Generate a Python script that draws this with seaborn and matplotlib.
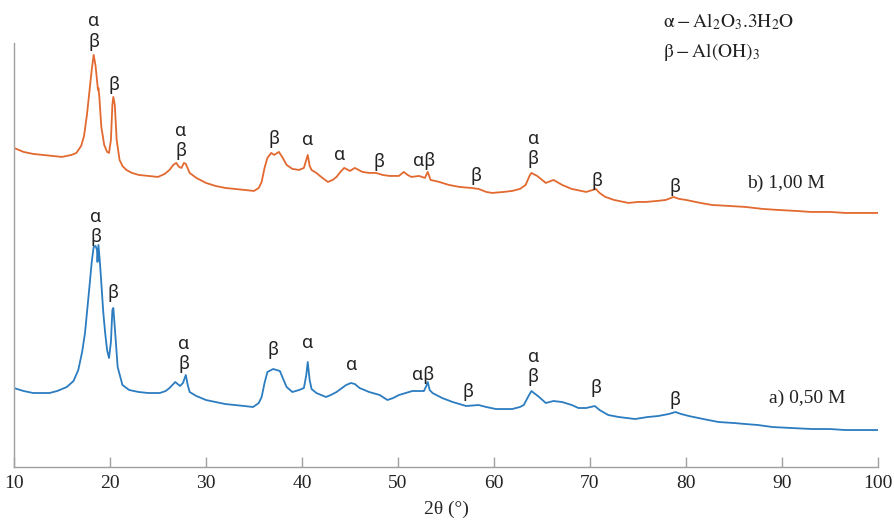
import numpy as np
import pandas as pd
import matplotlib
matplotlib.use("Agg")
import matplotlib.pyplot as plt
import seaborn as sns

# 2-theta positions (degrees) and relative intensities (a.u.) of the two diffractograms
two_theta_100 = [10.0, 11.0, 12.0, 13.0, 14.0, 15.0, 15.5, 16.0, 16.5, 17.0, 17.3, 17.6, 17.9, 18.1,
                 18.3, 18.5, 18.65, 18.75, 18.8, 18.9, 19.1, 19.4, 19.7, 19.9, 20.1, 20.25, 20.35,
                 20.5, 20.7, 21.0, 21.3, 21.7, 22.3, 23.0, 24.0, 25.0, 25.7, 26.2, 26.6, 26.9, 27.2,
                 27.45, 27.7, 27.9, 28.3, 29.0, 30.0, 31.0, 32.0, 33.0, 34.0, 35.0, 35.5, 35.8, 36.1,
                 36.4, 36.8, 37.1, 37.6, 38.0, 38.4, 39.0, 39.7, 40.2, 40.45, 40.6, 40.8, 41.0, 41.5,
                 42.0, 42.7, 43.2, 43.6, 44.0, 44.4, 45.0, 45.5, 46.3, 47.0, 47.7, 48.4, 49.1, 50.1,
                 50.6, 51.0, 51.4, 52.2, 52.8, 53.1, 53.4, 54.3, 55.3, 56.4, 57.6, 58.4, 59.2, 59.8,
                 61.0, 61.9, 62.7, 63.3, 63.7, 63.9, 64.5, 65.4, 66.2, 67.1, 68.1, 69.6, 70.3, 70.6,
                 71.0, 71.6, 72.5, 74.0, 75.0, 75.8, 77.0, 77.9, 78.7, 79.3, 80.0, 81.5, 82.7, 84.5,
                 86.2, 88.0, 89.6, 91.5, 93.0, 95.0, 96.6, 98.0, 100.0]
intensity_100 = [319, 315, 313, 312, 311, 310, 311, 312, 314, 321, 331, 352, 379, 397,
                 412, 401, 387, 377, 379, 369, 340, 322, 315, 314, 327, 362, 370,
                 362, 327, 307, 301, 297, 294, 292, 291, 290, 293, 297, 302, 304, 300,
                 299, 304, 303, 294, 289, 284, 281, 279, 278, 277, 276, 279, 285, 299,
                 309, 314, 312, 315, 309, 302, 298, 297, 299, 307, 312, 301, 297, 294,
                 290, 285, 287, 290, 295, 299, 296, 299, 295, 294, 294, 292, 291, 291,
                 295, 292, 290, 291, 289, 295, 287, 285, 282, 280, 279, 278, 275, 274,
                 275, 276, 278, 282, 291, 294, 291, 284, 287, 282, 278, 275, 277, 278,
                 274, 270, 267, 264, 265, 265, 266, 267, 270, 268, 267, 264, 262, 261,
                 260, 258, 257, 256, 255, 255, 254, 254, 254]

two_theta_050 = [10.0, 11.0, 12.0, 13.0, 13.7, 14.5, 15.5, 16.2, 16.7, 17.1, 17.4, 17.7, 17.9, 18.1,
                 18.3, 18.5, 18.65, 18.7, 18.8, 18.95, 19.1, 19.3, 19.5, 19.7, 19.9, 20.1, 20.25,
                 20.35, 20.5, 20.8, 21.3, 22.0, 23.0, 24.0, 25.2, 25.8, 26.2, 26.8, 27.3, 27.6, 27.9,
                 28.1, 28.3, 29.0, 30.0, 31.0, 32.0, 33.0, 34.0, 34.9, 35.5, 35.8, 36.1, 36.4, 37.0,
                 37.7, 38.0, 38.4, 39.0, 39.7, 40.2, 40.45, 40.6, 40.8, 41.0, 41.5, 42.5, 43.0, 43.6,
                 44.6, 45.1, 45.5, 46.0, 47.0, 48.1, 48.9, 49.5, 50.1, 51.5, 52.7, 52.95, 53.1, 53.3,
                 53.6, 54.6, 55.7, 57.1, 58.4, 59.2, 60.2, 61.9, 62.7, 63.1, 63.6, 63.9, 64.7, 65.4,
                 66.2, 67.1, 68.1, 68.8, 69.6, 70.5, 71.0, 71.9, 73.0, 74.7, 76.0, 77.1, 78.2, 78.9,
                 79.5, 80.3, 81.8, 83.4, 85.0, 86.2, 87.5, 89.0, 91.0, 93.1, 95.0, 96.6, 98.0, 100.0]
intensity_050 = [79, 76, 74, 74, 74, 76, 80, 86, 97, 115, 134, 164, 184, 205,
                 220, 221, 217, 205, 222, 205, 184, 155, 134, 117, 109, 125, 157,
                 159, 140, 100, 82, 77, 75, 74, 74, 76, 79, 85, 81, 84, 92,
                 82, 75, 71, 67, 65, 63, 62, 61, 60, 64, 70, 84, 95, 98,
                 96, 89, 80, 75, 77, 79, 92, 105, 87, 78, 74, 70, 72, 75,
                 82, 84, 83, 79, 75, 72, 67, 69, 72, 76, 76, 81, 85, 77,
                 74, 69, 65, 61, 62, 60, 58, 58, 60, 62, 71, 76, 70, 64,
                 66, 65, 62, 59, 59, 61, 57, 52, 50, 48, 50, 51, 53, 55,
                 53, 51, 48, 45, 44, 43, 42, 40, 39, 38, 38, 37, 37, 37]

# Phase labels: (text, 2-theta, height)
labels_100 = [("α", 18.3, 446), ("β", 18.3, 425), ("β", 20.4, 382), ("α", 27.4, 336),
              ("β", 27.4, 316), ("β", 37.1, 328), ("α", 40.6, 327), ("α", 43.9, 312),
              ("β", 48.0, 305), ("αβ", 52.75, 306), ("β", 58.1, 291), ("α", 64.1, 328),
              ("β", 64.1, 308), ("β", 70.7, 286), ("β", 78.9, 280)]
labels_050 = [("α", 18.5, 250), ("β", 18.5, 230), ("β", 20.3, 174), ("α", 27.7, 123),
              ("β", 27.7, 103), ("β", 37.0, 117), ("α", 40.6, 124), ("α", 45.2, 102),
              ("αβ", 52.6, 92), ("β", 57.3, 75), ("α", 64.1, 110), ("β", 64.1, 90),
              ("β", 70.6, 79), ("β", 78.9, 67)]

series_names = ["b) 1,00 M", "a) 0,50 M"]
x_ticks = [10, 20, 30, 40, 50, 60, 70, 80, 90, 100]

df = pd.concat([
    pd.DataFrame({"2θ": two_theta_100, "I": intensity_100, "amostra": series_names[0]}),
    pd.DataFrame({"2θ": two_theta_050, "I": intensity_050, "amostra": series_names[1]}),
])

sns.set_theme(style="white")
plt.rcParams["mathtext.fontset"] = "stix"

fig = plt.figure(figsize=(8.95, 5.23), dpi=100)
ax = fig.add_axes([0.0156, 0.107, 0.9654, 0.811])

palette = {series_names[0]: "#E2692F", series_names[1]: "#2B7CC0"}
sns.lineplot(data=df, x="2θ", y="I", hue="amostra", palette=palette, estimator=None,
             sort=False, linewidth=1.3, legend=False, ax=ax)

ax.set_xlim(10, 100)
ax.set_ylim(0, 424)
ax.set_xticks(x_ticks)
ax.set_xticklabels([str(t) for t in x_ticks], fontfamily="Liberation Serif", fontsize=14)
ax.set_yticks([])
ax.set_ylabel("")
ax.set_xlabel("2θ (°)", fontfamily="Liberation Serif", fontsize=14, labelpad=6)
ax.tick_params(axis="x", direction="in", length=7, width=1, color="#A0A0A0", pad=6,
               labelcolor="#222222", bottom=True)
for side in ("top", "right"):
    ax.spines[side].set_visible(False)
for side in ("left", "bottom"):
    ax.spines[side].set_color("#A0A0A0")
    ax.spines[side].set_linewidth(1.0)

for labels in (labels_100, labels_050):
    for txt, xx, yy in labels:
        ax.text(xx, yy, txt, ha="center", va="center", fontsize=13,
                fontfamily="Noto Sans", color="#222222")

ax.text(90.4, 284, series_names[0], ha="center", va="center", fontsize=14,
        fontfamily="Liberation Serif", color="#222222")
ax.text(92.6, 69, series_names[1], ha="center", va="center", fontsize=14,
        fontfamily="Liberation Serif", color="#222222")

fig.text(0.741, 0.958, r"$\mathrm{α - Al_2O_3.3H_2O}$", ha="left", va="center",
         fontsize=14, color="#222222")
fig.text(0.741, 0.900, r"$\mathrm{β - Al(OH)_3}$", ha="left", va="center",
         fontsize=14, color="#222222")

fig.savefig("out.png", dpi=100)
